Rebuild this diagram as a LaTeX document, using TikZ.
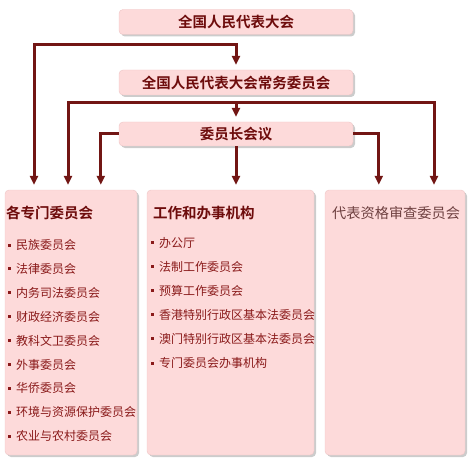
\documentclass[tikz,border=0pt]{standalone}
\usepackage{fontspec}
\setmainfont{Noto Sans CJK SC}[BoldFont={Noto Sans CJK SC Bold}]
\usetikzlibrary{arrows.meta,shadows}

\definecolor{boxpink}{HTML}{FDDADA}
\definecolor{boxline}{HTML}{EEC6C6}
\definecolor{linkred}{HTML}{721614}
\definecolor{textred}{HTML}{6E0C0C}
\definecolor{itemred}{HTML}{8A1A1A}
\definecolor{greyred}{HTML}{6E4040}

\tikzset{
  orgbox/.style={draw=boxline, fill=boxpink, rounded corners=4pt, inner sep=0pt,
    drop shadow={shadow xshift=2pt, shadow yshift=-2pt, fill=black!20, opacity=1}},
  topbox/.style={orgbox, minimum width=234pt, minimum height=25pt,
    font=\bfseries\fontsize{14.5}{15}\selectfont, text=textred},
  bigbox/.style={orgbox, minimum height=265pt},
  boxtitle/.style={anchor=west, inner sep=0pt, font=\bfseries\fontsize{14.5}{15}\selectfont, text=textred},
  item/.style={anchor=west, inner sep=0pt, font=\fontsize{12}{12}\selectfont, text=itemred},
  bullet/.style={fill=itemred, inner sep=0pt, minimum size=3pt},
  link/.style={draw=linkred, line width=3pt, shorten >=5pt,
    -{Triangle[width=8pt,length=9pt]}},
  twolink/.style={link, shorten <=5pt,
    {Triangle[width=8pt,length=9pt]}-{Triangle[width=8pt,length=9pt]}}
}

\begin{document}
\begin{tikzpicture}[x=1pt, y=-1pt]
  \useasboundingbox (0,0) rectangle (471,468);

  % upper boxes
  \node[topbox] (npc) at (236,22) {全国人民代表大会};
  \node[topbox] (npcsc) at (236,82.5) {全国人民代表大会常务委员会};
  \node[topbox, minimum height=24pt] (chair) at (236,134) {委员长会议};

  % lower boxes
  \node[bigbox, minimum width=132pt] (spec) at (71,322.5) {};
  \node[bigbox, minimum width=167pt] (work) at (230.5,322.5) {};
  \node[bigbox, minimum width=140pt] (cred) at (395,322.5) {};

  % titles
  \node[boxtitle] (spectitle) at (6,213) {各专门委员会};
  \node[boxtitle] (worktitle) at (153,213) {工作和办事机构};
  \node[boxtitle, font=\fontsize{14.2}{15}\selectfont, text=greyred] (credtitle) at (332,213) {代表资格审查委员会};

  % special committees
  \foreach \t [count=\i from 0] in {民族委员会,法律委员会,内务司法委员会,财政经济委员会,
      教科文卫委员会,外事委员会,华侨委员会,环境与资源保护委员会,农业与农村委员会} {
    \node[item] (spec\i) at (16,{245+23.9*\i}) {\t};
    \node[bullet] at ([xshift=-6.5pt]spec\i.west) {};
  }

  % working bodies
  \foreach \t [count=\i from 0] in {办公厅,法制工作委员会,预算工作委员会,
      香港特别行政区基本法委员会,澳门特别行政区基本法委员会,专门委员会办事机构} {
    \node[item] (work\i) at (159,{242.5+24.1*\i}) {\t};
    \node[bullet] at ([xshift=-6.5pt]work\i.west) {};
  }

  % connectors
  \coordinate (bus1) at (34,45);
  \coordinate (bus2l) at (68,103);
  \coordinate (bus2r) at (434,103);

  \draw[twolink] (bus1 |- spec.north) -- (bus1) -| (npcsc.north);
  \draw[twolink] (bus2l |- spec.north) -- (bus2l) -- (bus2r) -- (bus2r |- cred.north);
  \draw[link] (chair.north |- bus2l) -- (chair.north);
  \draw[link] (chair.west) -| ([xshift=96pt]spec.north west);
  \draw[link] (chair.south) -- (chair.south |- work.north);
  \draw[link] (chair.east) -| ([xshift=54pt]cred.north west);

\end{tikzpicture}
\end{document}
